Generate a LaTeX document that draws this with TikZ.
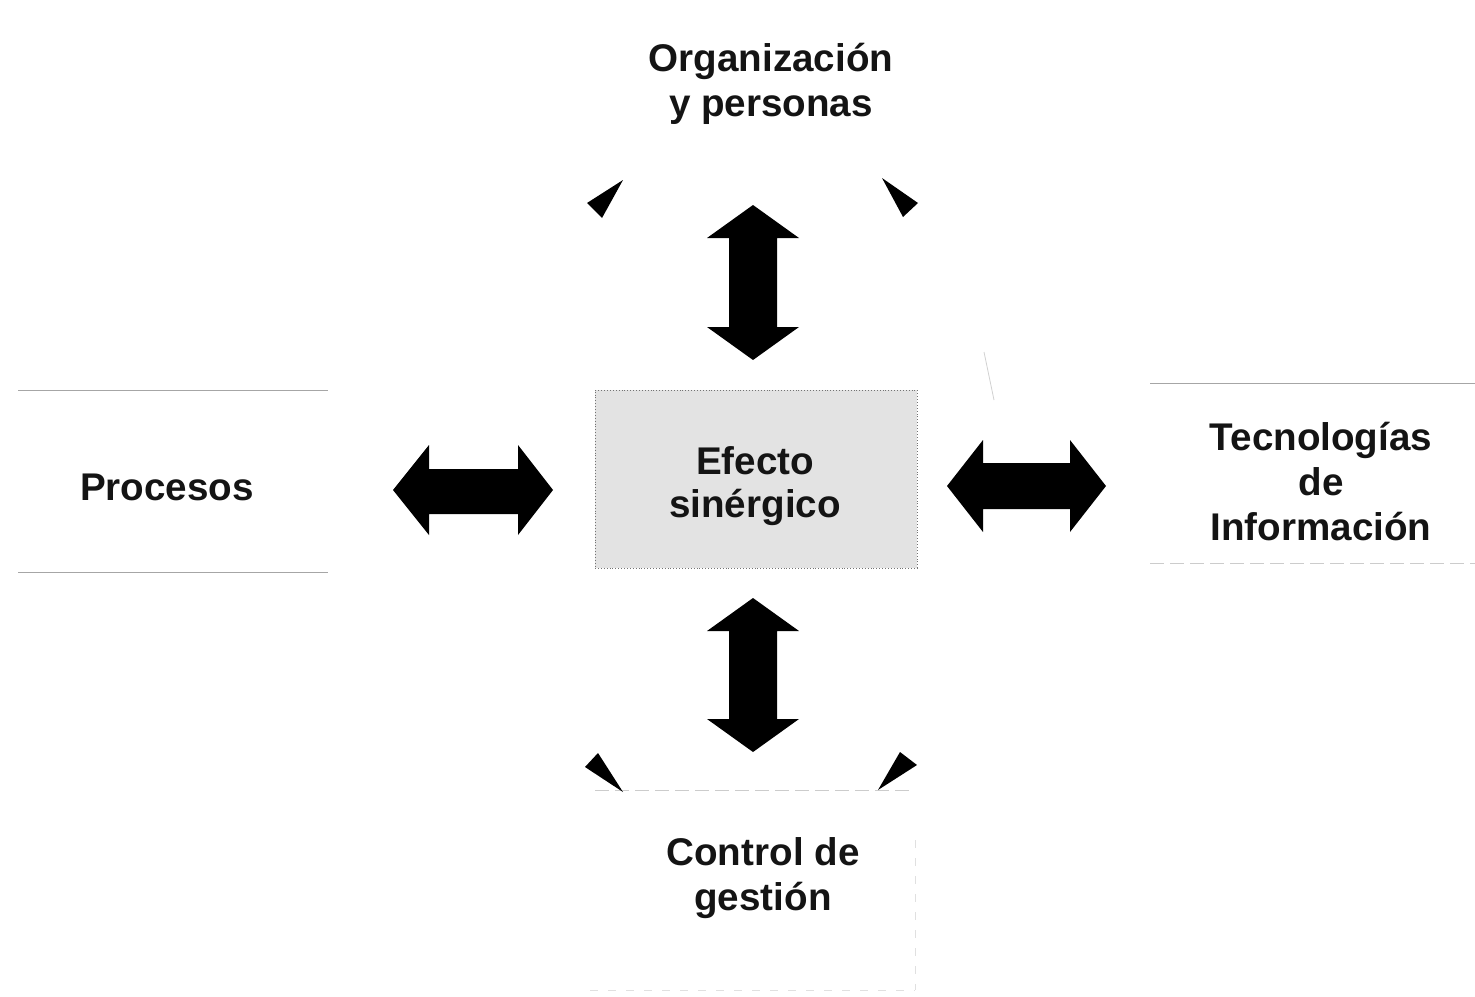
\documentclass[tikz,border=0pt]{standalone}
\usepackage{fontspec}
\setmainfont{Liberation Sans}
\begin{document}
\begin{tikzpicture}[x=1pt,y=-1pt,
  lbl/.style={font=\fontsize{38.6}{45}\selectfont\bfseries, align=center, text=black!92, inner sep=0pt},
  bigarrow/.style={fill=black, draw=none},
  wedge/.style={fill=black, draw=none},
  faint/.style={draw=black!35, line width=0.9pt},
  fainter/.style={draw=black!20, line width=0.8pt, dash pattern=on 14pt off 6pt},
  faintest/.style={draw=black!12, line width=0.7pt, dash pattern=on 8pt off 10pt}]
\useasboundingbox (0,0) rectangle (1475,996);
% central box
\node[draw=black!55, dotted, line width=0.9pt, fill=black!11, minimum width=322pt, minimum height=178pt, inner sep=0pt] (box) at (756,479) {};
\node[lbl] (ef) at (755,486) {Efecto\\[-2pt]sinérgico};
% outer labels
\node[lbl] (org) at (771,84) {Organización\\y personas};
\node[lbl] (proc) at (167,487) {Procesos};
\node[lbl] (tec) at (1321,482) {Tecnologías\\de\\Información};
\node[lbl] (ctrl) at (763,878) {Control de\\gestión};
% faint frame remnants
\draw[faint] (18,390) -- (328,390);
\draw[faint] (18,572) -- (328,572);
\draw[faint] (1150,383) -- (1475,383);
\draw[fainter] (1150,563) -- (1475,563);
\draw[fainter] (595,790) -- (915,790);
\draw[faintest] (590,990) -- (915,990);
\draw[faintest] (915,840) -- (915,990);
\draw[draw=black!18, line width=0.8pt] (984,352) -- (994,400);
% big double arrows
\fill[bigarrow] (753,205) -- (799,238) -- (777,238) -- (777,327) -- (799,327) -- (753,360) -- (707,327) -- (729,327) -- (729,238) -- (707,238) -- cycle;
\fill[bigarrow] (753,598) -- (799,631) -- (777,631) -- (777,719) -- (799,719) -- (753,752) -- (707,719) -- (729,719) -- (729,631) -- (707,631) -- cycle;
\fill[bigarrow] (393,490) -- (429,445) -- (429,469) -- (518,469) -- (518,445) -- (553,490) -- (518,535) -- (518,514) -- (429,514) -- (429,535) -- cycle;
\fill[bigarrow] (947,486) -- (983,440) -- (983,463) -- (1070,463) -- (1070,440) -- (1106,486) -- (1070,532) -- (1070,509) -- (983,509) -- (983,532) -- cycle;
% small wedges
\fill[wedge] (623,180) -- (587,203) -- (602,218) -- cycle;
\fill[wedge] (882,178) -- (918,203) -- (903,217) -- cycle;
\fill[wedge] (623,792) -- (585,767) -- (598,753) -- cycle;
\fill[wedge] (878,790) -- (917,765) -- (900,752) -- cycle;
\end{tikzpicture}
\end{document}
